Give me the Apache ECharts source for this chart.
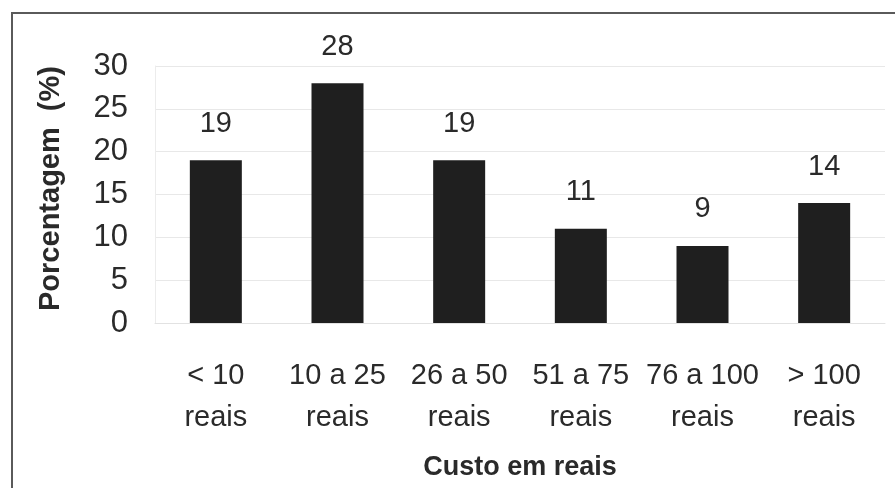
<!DOCTYPE html>
<html>
<head>
<meta charset="utf-8">
<script src="https://cdn.jsdelivr.net/npm/echarts@6/dist/echarts.min.js"></script>
<style>
  html, body { margin: 0; padding: 0; background: #fff; }
  #myChart { width: 895px; height: 488px; }
</style>
</head>
<body>
<div id="myChart"></div>
<script>
// dados do gráfico
const categorias = ["< 10\nreais", "10 a 25\nreais", "26 a 50\nreais", "51 a 75\nreais", "76 a 100\nreais", "> 100\nreais"];
const porcentagens = [19, 28, 19, 11, 9, 14];
const yTicks = [0, 5, 10, 15, 20, 25, 30];

const fonte = "Liberation Sans, Arial, sans-serif";
const myChart = echarts.init(document.getElementById("myChart"));

myChart.setOption({
  animation: false,
  backgroundColor: "#fff",
  textStyle: { fontFamily: fonte },
  graphic: [
    {
      type: "rect",
      z: -1,
      shape: { x: 12, y: 13, width: 900, height: 500 },
      style: { fill: "none", stroke: "#5a5a5a", lineWidth: 2 },
    },
  ],
  grid: {
    left: 155,
    right: 10,
    top: 66,
    bottom: 165,
  },
  xAxis: {
    type: "category",
    data: categorias,
    name: "Custo em reais",
    nameLocation: "middle",
    nameGap: 131,
    nameTextStyle: { fontSize: 27, fontWeight: "bold", color: "#2a2a2a", fontFamily: fonte },
    axisLine: { lineStyle: { color: "#e2e2e2" } },
    axisTick: { show: false },
    axisLabel: {
      fontSize: 29,
      lineHeight: 42,
      color: "#2a2a2a",
      margin: 32,
      interval: 0,
      fontFamily: fonte,
    },
  },
  yAxis: {
    type: "value",
    min: 0,
    max: 30,
    interval: 5,
    name: "Porcentagem  (%)",
    nameLocation: "middle",
    nameGap: 90,
    nameRotate: 90,
    nameTextStyle: {
      fontSize: 29,
      fontWeight: "bold",
      color: "#2a2a2a",
      fontFamily: fonte,
      padding: [0, 0, 0, 12],
    },
    axisLine: { show: true, lineStyle: { color: "#ececec" } },
    axisTick: { show: false },
    axisLabel: {
      fontSize: 31,
      color: "#2a2a2a",
      margin: 27,
      fontFamily: fonte,
      formatter: (v) => (yTicks.includes(v) ? String(v) : ""),
    },
    splitLine: { lineStyle: { color: "#e8e8e8" } },
  },
  series: [
    {
      type: "bar",
      data: porcentagens,
      barWidth: 52,
      itemStyle: { color: "#1f1f1f" },
      label: {
        show: true,
        position: "top",
        distance: 22,
        fontSize: 29,
        color: "#2a2a2a",
        fontFamily: fonte,
      },
    },
  ],
});
</script>
</body>
</html>
